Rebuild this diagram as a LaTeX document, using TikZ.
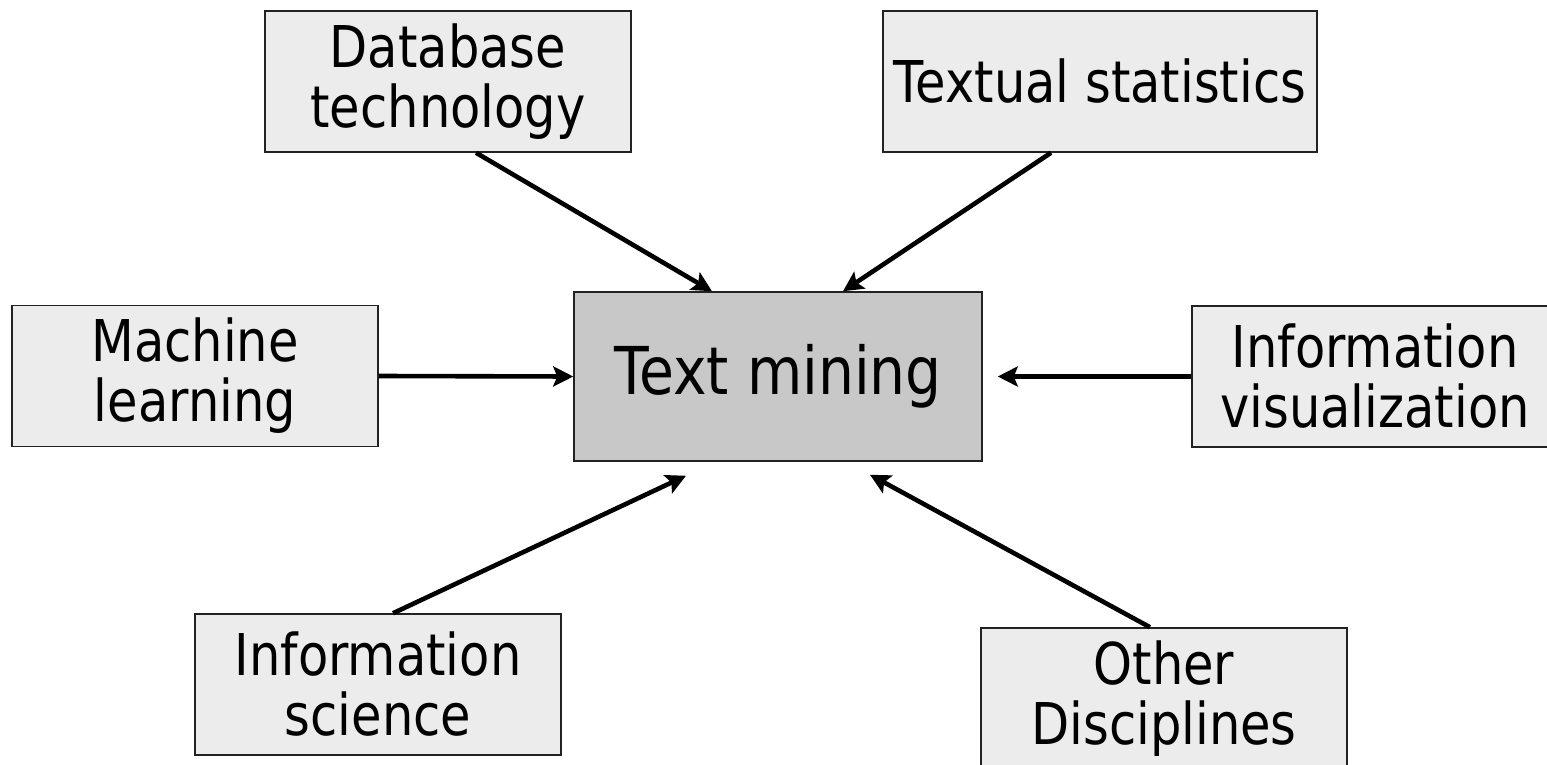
\documentclass[tikz,border=0pt]{standalone}
\usepackage{fontspec}
\setmainfont{DejaVu Sans}[FakeStretch=0.86]
\usetikzlibrary{arrows.meta}
\definecolor{boxfill}{HTML}{ECECEC}
\definecolor{mainfill}{HTML}{C8C8C8}
\definecolor{boxline}{HTML}{222222}
\begin{document}
\begin{tikzpicture}[x=0.5pt,y=-0.5pt,
  srcbox/.style={draw=boxline,line width=0.75pt,fill=boxfill,inner sep=0pt,
    minimum width=183pt,minimum height=70.5pt,align=center,
    font=\fontsize{28.8pt}{30pt}\selectfont},
  mainbox/.style={draw=boxline,line width=0.75pt,fill=mainfill,inner sep=0pt,
    minimum width=204pt,minimum height=84.5pt,align=center,
    font=\fontsize{33pt}{35pt}\selectfont},
  link/.style={line width=2.3pt,-{Stealth[length=10pt,width=10pt,inset=2pt]}}]
\useasboundingbox (0,0) rectangle (1547,765);
\node[mainbox] (tm) at (778,376.5) {Text mining};
\node[srcbox] (db) at (448,81.5) {Database\\technology};
\node[srcbox,minimum width=217pt] (ts) at (1100,81.5) {Textual statistics};
\node[srcbox] (ml) at (195,376) {Machine\\learning};
\node[srcbox] (iv) at (1375,376.5) {Information\\visualization};
\node[srcbox] (is) at (378,684.5) {Information\\science};
\node[srcbox] (od) at (1164,698.5) {Other\\Disciplines};
\draw[link] ([xshift=14pt]db.south) -- ([xshift=-33pt]tm.north);
\draw[link] ([xshift=-24.5pt]ts.south) -- ([xshift=32.5pt]tm.north);
\draw[link] (ml.east) -- (tm.west);
\draw[link] (iv.west) -- ([xshift=7.5pt]tm.east);
\draw[link] ([xshift=7.5pt]is.north) -- ([xshift=-46pt,yshift=-7pt]tm.south);
\draw[link] ([xshift=-7pt]od.north) -- ([xshift=46pt,yshift=-6.5pt]tm.south);
\end{tikzpicture}
\end{document}
